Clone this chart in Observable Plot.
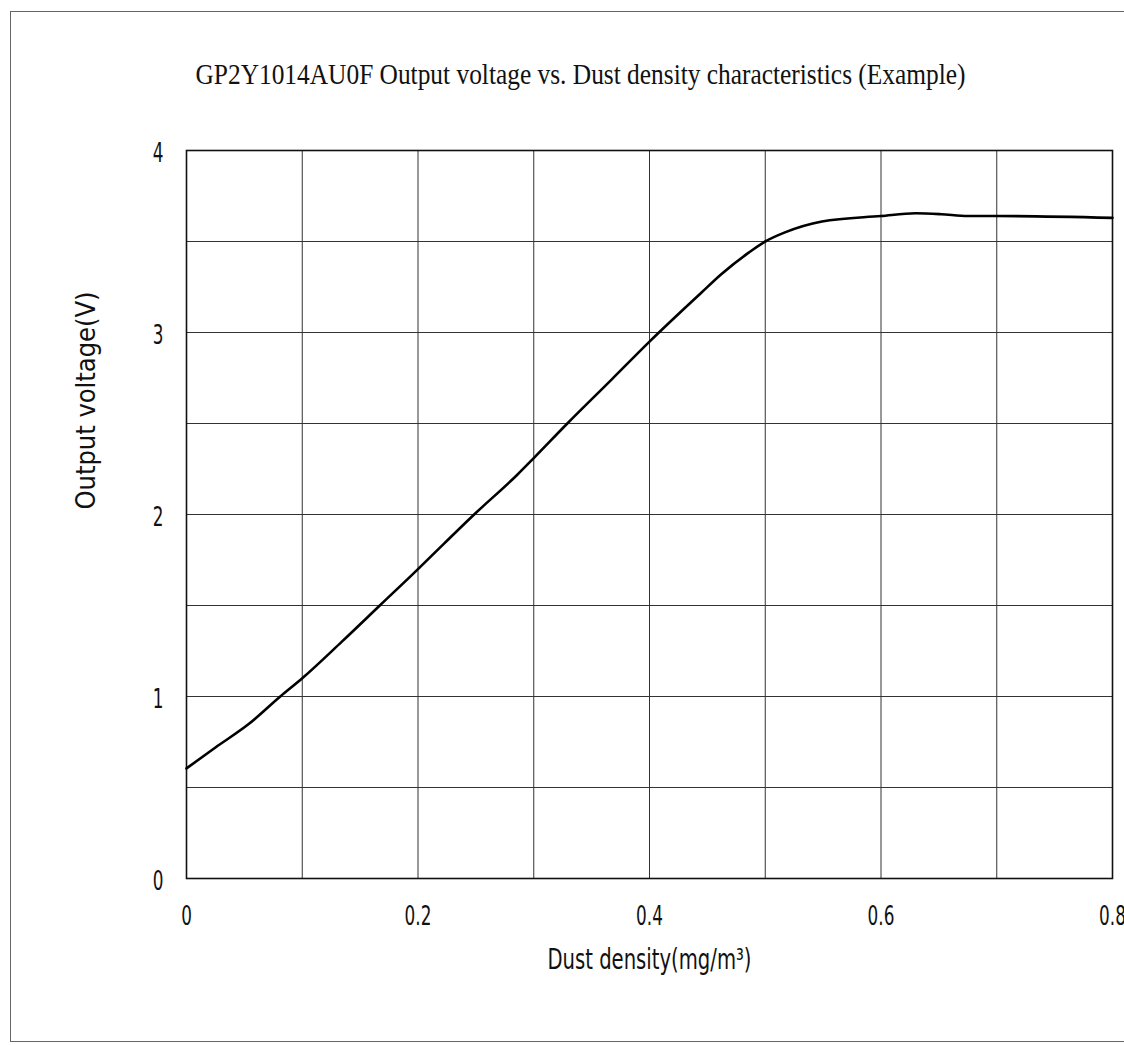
<!DOCTYPE html>
<html>
<head>
<meta charset="utf-8">
<script src="https://cdn.jsdelivr.net/npm/d3@7"></script>
<script src="https://cdn.jsdelivr.net/npm/@observablehq/plot@0.6"></script>
<style>
  html, body { margin: 0; padding: 0; background: #fff; overflow: hidden; }
  #wrap { position: relative; width: 1124px; height: 1045px; }
  #border { position: absolute; left: 10px; top: 11px; width: 1200px; height: 1029px;
            border-left: 1.5px solid #666; border-top: 1.5px solid #666; border-bottom: 1.5px solid #666; }
  #chart { position: absolute; left: 0; top: 0; }
</style>
</head>
<body>
<div id="wrap"><div id="border"></div><div id="chart"></div></div>
<script>
const titleText = "GP2Y1014AU0F Output voltage vs. Dust density characteristics (Example)";
const xLabel = "Dust density(mg/m³)";
const yLabel = "Output voltage(V)";

const density = [0, 0.025, 0.054, 0.081, 0.1, 0.134, 0.167, 0.2, 0.2225, 0.2485, 0.286, 0.3, 0.329, 0.367, 0.4, 0.445, 0.462, 0.486, 0.5, 0.517, 0.549, 0.6, 0.63, 0.652, 0.675, 0.7, 0.8];
const voltage = [0.605, 0.72, 0.85, 1.0, 1.1, 1.3, 1.5, 1.7, 1.84, 2.0, 2.22, 2.31, 2.5, 2.74, 2.95, 3.22, 3.32, 3.44, 3.5, 3.55, 3.61, 3.64, 3.655, 3.65, 3.64, 3.64, 3.63];

const xGrid = [0.1, 0.2, 0.3, 0.4, 0.5, 0.6, 0.7];
const yGrid = [0.5, 1, 1.5, 2, 2.5, 3, 3.5];
const xTicks = [0, 0.2, 0.4, 0.6, 0.8];
const yTicks = [0, 1, 2, 3, 4];

const data = density.map((d, i) => ({density: d, voltage: voltage[i]}));

const sansFont = "'DejaVu Sans Condensed', 'Liberation Sans Narrow', 'DejaVu Sans', sans-serif";

const chart = Plot.plot({
  width: 1124,
  height: 1045,
  marginLeft: 186,
  marginRight: 12,
  marginTop: 150,
  marginBottom: 167,
  style: {background: "transparent", color: "#111"},
  x: {domain: [0, 0.8]},
  y: {domain: [0, 4]},
  marks: [
    Plot.ruleX(xGrid, {stroke: "#333", strokeWidth: 1}),
    Plot.ruleY(yGrid, {stroke: "#333", strokeWidth: 1}),
    Plot.frame({stroke: "#111", strokeWidth: 1.6}),
    Plot.line(data, {x: "density", y: "voltage", stroke: "#000", strokeWidth: 2.6, curve: "monotone-x"}),
    Plot.axisX(xTicks, {tickSize: 0, tickPadding: 28, fontSize: 26, fontFamily: sansFont, label: null,
      tickFormat: d => String(d)}),
    Plot.axisY(yTicks, {tickSize: 0, tickPadding: 23, fontSize: 26, fontFamily: sansFont, label: null,
      tickFormat: d => String(d), dy: 3}),
    Plot.text([xLabel], {frameAnchor: "bottom", dy: 90, fontSize: 28, fontFamily: sansFont, fill: "#111"}),
    Plot.text([yLabel], {frameAnchor: "left", dx: -100, dy: -5, rotate: -90, fontSize: 26, fontFamily: sansFont, fill: "#111"}),
    Plot.text([titleText], {frameAnchor: "top", dx: -69, dy: -88, fontSize: 30, fontFamily: "'Liberation Serif', 'DejaVu Serif', serif", fill: "#111"})
  ]
});

document.getElementById("chart").appendChild(chart);

const tickSet = new Set([...xTicks, ...yTicks].map(String));
chart.querySelectorAll("text").forEach(t => {
  const s = t.textContent;
  if (s === titleText) { t.setAttribute("textLength", 770); t.setAttribute("lengthAdjust", "spacingAndGlyphs"); }
  else if (s === xLabel) { t.setAttribute("textLength", 204); t.setAttribute("lengthAdjust", "spacingAndGlyphs"); }
  else if (s === yLabel) { t.setAttribute("textLength", 218); t.setAttribute("lengthAdjust", "spacingAndGlyphs"); }
  else if (tickSet.has(s)) {
    t.style.fontSize = "26px";
    t.style.fontFamily = sansFont;
    const len = t.getComputedTextLength();
    if (len > 0) { t.setAttribute("textLength", (len * 0.72).toFixed(1)); t.setAttribute("lengthAdjust", "spacingAndGlyphs"); }
  }
});
</script>
</body>
</html>
